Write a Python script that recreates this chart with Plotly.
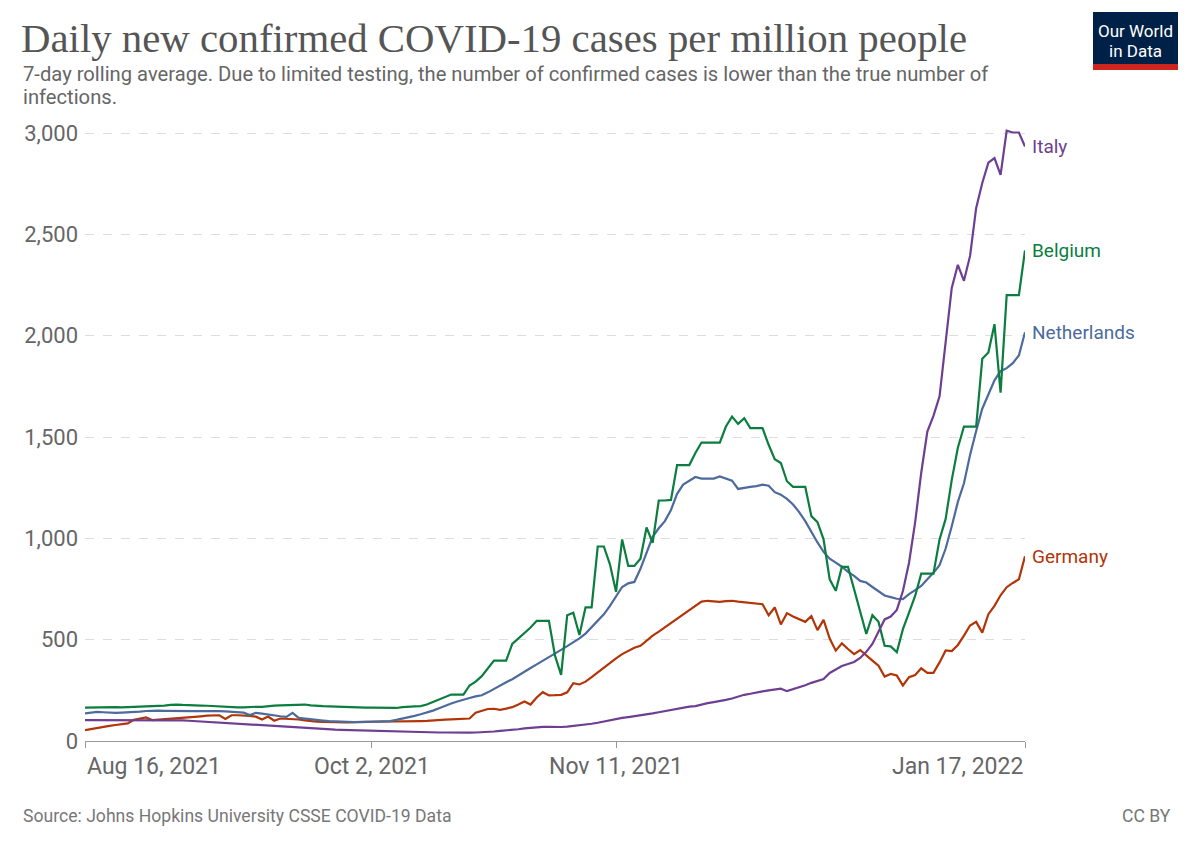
import pandas as pd
import plotly.graph_objects as go

# daily dates, Aug 16 2021 .. Jan 17 2022
dates = pd.date_range("2021-08-16", "2022-01-17", freq="D")

italy = [
    103, 103, 103, 104, 104, 104, 105, 105, 105, 105,
    105, 104, 104, 104, 103, 103, 102, 100, 98, 96,
    95, 93, 92, 90, 88, 86, 83, 82, 80, 78,
    77, 75, 74, 72, 70, 68, 65, 62, 60, 58,
    57, 56, 55, 54, 53, 52, 51, 50, 50, 49,
    49, 49, 48, 47, 46, 45, 44, 43, 42, 42,
    41, 41, 41, 41, 42, 43, 45, 47, 50, 52,
    55, 58, 62, 65, 69, 70, 70, 69, 69, 71,
    74, 77, 81, 85, 90, 96, 103, 110, 114, 118,
    122, 126, 131, 136, 142, 148, 154, 160, 166, 170,
    172, 180, 187, 192, 196, 203, 210, 220, 228, 233,
    240, 245, 250, 255, 258, 246, 255, 265, 275, 287,
    296, 306, 336, 355, 370, 380, 390, 410, 440, 479,
    536, 600, 614, 647, 740, 880, 1079, 1324, 1527, 1605,
    1701, 1973, 2236, 2350, 2271, 2394, 2631, 2754, 2854, 2877,
    2794, 3012, 3003, 3003, 2934,
]

belgium = [
    165, 166, 167, 168, 168, 167, 166, 167, 170, 172,
    172, 172, 173, 175, 178, 180, 178, 176, 175, 175,
    174, 172, 170, 168, 167, 166, 166, 168, 169, 168,
    172, 175, 176, 177, 178, 181, 180, 176, 173, 172,
    171, 170, 166, 165, 165, 165, 165, 165, 164, 164,
    164, 163, 167, 170, 171, 172, 180, 192, 205, 220,
    229, 229, 229, 274, 293, 320, 360, 397, 397, 397,
    479, 505, 530, 560, 593, 593, 593, 421, 326, 621,
    633, 523, 659, 659, 960, 960, 872, 736, 995, 864,
    864, 900, 1054, 978, 1187, 1187, 1190, 1362, 1362, 1362,
    1421, 1473, 1473, 1473, 1473, 1552, 1601, 1565, 1593, 1544,
    1544, 1544, 1462, 1391, 1372, 1282, 1254, 1254, 1254, 1110,
    1080, 995, 798, 741, 859, 859, 749, 626, 528, 621,
    588, 470, 467, 438, 552, 634, 716, 826, 826, 826,
    995, 1096, 1289, 1447, 1552, 1552, 1552, 1886, 1917, 2057,
    1719, 2201, 2201, 2201, 2421,
]

netherlands = [
    136, 140, 144, 142, 140, 139, 140, 141, 143, 145,
    148, 150, 150, 149, 148, 148, 148, 147, 147, 147,
    148, 148, 147, 146, 145, 143, 140, 128, 139, 135,
    130, 126, 122, 119, 139, 114, 110, 107, 104, 101,
    98, 96, 95, 94, 93, 93, 94, 94, 95, 96,
    98, 104, 110, 117, 124, 132, 140, 150, 162, 175,
    185, 195, 205, 212, 220, 226, 240, 258, 275, 290,
    305, 322, 340, 360, 378, 395, 413, 430, 450, 468,
    487, 506, 530, 560, 590, 625, 667, 715, 760, 778,
    785, 850, 930, 1008, 1050, 1085, 1140, 1220, 1265, 1285,
    1303, 1295, 1295, 1295, 1306, 1295, 1285, 1244, 1250, 1254,
    1258, 1265, 1260, 1228, 1216, 1195, 1167, 1130, 1085, 1030,
    980, 933, 900, 880, 860, 835, 815, 790, 782, 760,
    737, 718, 710, 702, 700, 725, 745, 765, 798, 830,
    868, 950, 1060, 1180, 1272, 1412, 1530, 1640, 1710, 1780,
    1825, 1840, 1865, 1903, 2017,
]

germany = [
    54, 60, 65, 70, 75, 79, 83, 87, 105, 112,
    116, 103, 105, 107, 109, 111, 113, 116, 119, 122,
    125, 127, 127, 109, 127, 127, 126, 124, 120, 106,
    121, 100, 111, 110, 108, 106, 102, 98, 95, 94,
    93, 92, 92, 92, 93, 95, 95, 95, 95, 95,
    95, 95, 96, 97, 97, 98, 99, 100, 102, 105,
    107, 108, 110, 111, 140, 150, 158, 159, 154, 160,
    167, 180, 195, 180, 215, 241, 225, 226, 228, 240,
    285, 279, 293, 315, 339, 363, 388, 408, 429, 445,
    460, 470, 495, 520, 540, 561, 580, 601, 622, 647,
    667, 688, 692, 690, 687, 690, 692, 688, 685, 683,
    680, 675, 621, 659, 575, 631, 615, 600, 588, 616,
    547, 598, 506, 446, 482, 454, 429, 449, 421, 397,
    372, 318, 331, 323, 274, 315, 326, 359, 336, 336,
    388, 447, 444, 474, 520, 570, 588, 535, 626, 667,
    719, 759, 780, 798, 912,
]

series = [
    ("Germany", germany, "#B13507"),
    ("Netherlands", netherlands, "#4C6A9C"),
    ("Belgium", belgium, "#0B7D3E"),
    ("Italy", italy, "#6D3E91"),
]

tick_dates = ["2021-08-16", "2021-10-02", "2021-11-11", "2022-01-17"]
tick_labels = ["Aug 16, 2021", "Oct 2, 2021", "Nov 11, 2021", "Jan 17, 2022"]
tick_anchor = ["left", "center", "center", "right"]

# the page puts the figure 8px in from the top-left corner
OFF = 8
W, H = 1200 - OFF, 847 - OFF
PLOT_L, PLOT_R, PLOT_T, PLOT_B = 85, 1025, 123, 741   # target page pixels
L, T = PLOT_L - OFF, PLOT_T - OFF
R, B = W - (PLOT_R - OFF), H - (PLOT_B - OFF)
FONT = "Roboto, Lato, sans-serif"


def px_x(px):
    return (px - PLOT_L) / (PLOT_R - PLOT_L)


def px_y(py):
    return (PLOT_B - py) / (PLOT_B - PLOT_T)


fig = go.Figure()
for name, vals, color in series:
    fig.add_trace(go.Scatter(
        x=dates, y=vals, name=name, mode="lines",
        line=dict(color=color, width=2.2),
        hovertemplate="%{y:,.0f}<extra>" + name + "</extra>",
    ))

annotations = []
for name, vals, color in series:
    annotations.append(dict(
        x=dates[-1], y=vals[-1], text=name, showarrow=False,
        xanchor="left", yanchor="middle", xshift=5,
        font=dict(family=FONT, size=19, color=color),
    ))

for d, lab, anc in zip(tick_dates, tick_labels, tick_anchor):
    annotations.append(dict(
        x=d, y=px_y(766), yref="paper", text=lab, showarrow=False,
        xanchor=anc, yanchor="middle",
        font=dict(family=FONT, size=23, color="#666"),
    ))

annotations += [
    dict(x=px_x(21), y=px_y(74), xref="paper", yref="paper",
         text="7-day rolling average. Due to limited testing, the number of confirmed cases is lower than the true number of",
         showarrow=False, xanchor="left", yanchor="middle",
         font=dict(family=FONT, size=20.2, color="#666")),
    dict(x=px_x(21), y=px_y(97), xref="paper", yref="paper",
         text="infections.", showarrow=False, xanchor="left", yanchor="middle",
         font=dict(family=FONT, size=20.2, color="#666")),
    dict(x=px_x(21), y=px_y(816), xref="paper", yref="paper",
         text="Source: Johns Hopkins University CSSE COVID-19 Data",
         showarrow=False, xanchor="left", yanchor="middle",
         font=dict(family=FONT, size=17.6, color="#777")),
    dict(x=px_x(1173), y=px_y(816), xref="paper", yref="paper",
         text="CC BY", showarrow=False, xanchor="right", yanchor="middle",
         font=dict(family=FONT, size=17.6, color="#777")),
    dict(x=px_x(1135.5), y=px_y(31), xref="paper", yref="paper",
         text="Our World", showarrow=False, xanchor="center", yanchor="middle",
         font=dict(family=FONT, size=17, color="white")),
    dict(x=px_x(1135.5), y=px_y(51), xref="paper", yref="paper",
         text="in Data", showarrow=False, xanchor="center", yanchor="middle",
         font=dict(family=FONT, size=17, color="white")),
]

shapes = [
    dict(type="rect", xref="paper", yref="paper",
         x0=px_x(1093), x1=px_x(1178), y0=px_y(64), y1=px_y(12),
         fillcolor="#002147", line=dict(width=0), layer="above"),
    dict(type="rect", xref="paper", yref="paper",
         x0=px_x(1093), x1=px_x(1178), y0=px_y(70), y1=px_y(64),
         fillcolor="#CE261E", line=dict(width=0), layer="above"),
]

fig.update_layout(
    width=W, height=H,
    margin=dict(l=L, r=R, t=T, b=B),
    paper_bgcolor="white", plot_bgcolor="white",
    showlegend=False,
    title=dict(
        text="Daily new confirmed COVID-19 cases per million people",
        x=(21 - OFF) / W, xanchor="left", xref="container",
        y=1 - (38 - OFF) / H, yanchor="middle", yref="container",
        font=dict(family="Liberation Serif, DejaVu Serif, serif", size=40.8, color="#555"),
    ),
    annotations=annotations,
    shapes=shapes,
    xaxis=dict(
        range=[dates[0], dates[-1]],
        tickvals=tick_dates, showticklabels=False,
        ticks="outside", ticklen=6, tickcolor="#999",
        showline=True, linecolor="#999", linewidth=1,
        showgrid=False, zeroline=False,
    ),
    yaxis=dict(
        range=[0, 3050],
        tickvals=[0, 500, 1000, 1500, 2000, 2500, 3000],
        tickformat=",",
        tickfont=dict(family=FONT, size=22, color="#666"),
        showgrid=True, gridcolor="#ddd", griddash="dash",
        zeroline=False, showline=False, ticks="",
        ticklabelstandoff=6,
    ),
)

fig.write_html("out.html")
